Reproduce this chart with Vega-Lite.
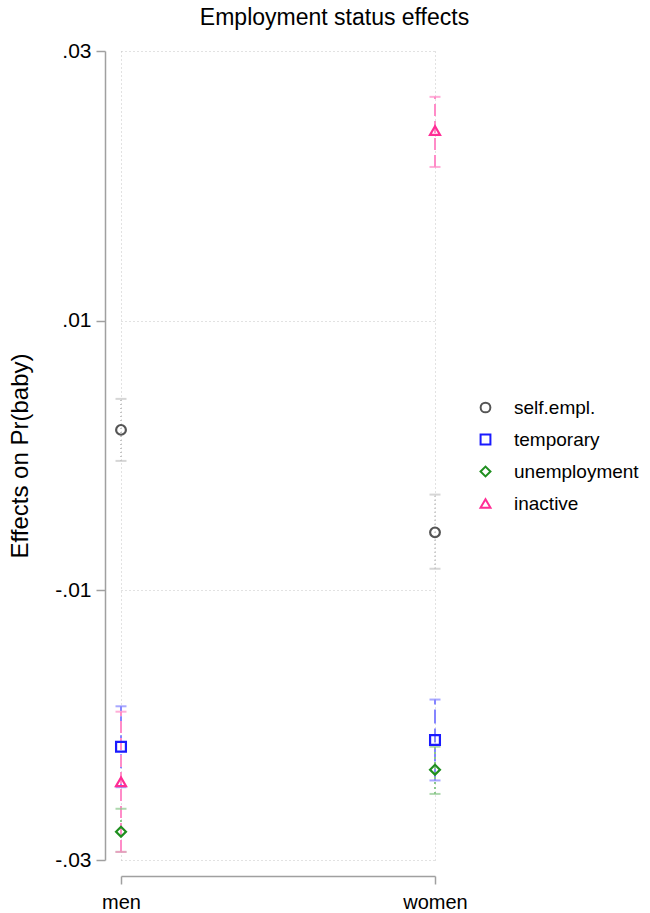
{
  "$schema": "https://vega.github.io/schema/vega-lite/v6.json",
  "autosize": "none",
  "width": 345,
  "height": 809,
  "padding": {"left": 105, "top": 51, "right": 200, "bottom": 53},
  "background": "white",
  "config": {"font": "Liberation Sans", "view": {"stroke": null}},
  "title": {"text": "Employment status effects", "fontSize": 23, "fontWeight": "normal", "color": "#000000", "anchor": "middle", "dx": 57, "offset": 10},
  "data": {"values": [
    {"sex": "men", "status": "self.empl.", "est": 0.0019, "lo": -0.0004, "hi": 0.0042},
    {"sex": "men", "status": "temporary", "est": -0.0216, "lo": -0.0246, "hi": -0.0186},
    {"sex": "men", "status": "unemployment", "est": -0.0279, "lo": -0.0294, "hi": -0.0262},
    {"sex": "men", "status": "inactive", "est": -0.0242, "lo": -0.0294, "hi": -0.0190},
    {"sex": "women", "status": "self.empl.", "est": -0.0057, "lo": -0.0084, "hi": -0.0029},
    {"sex": "women", "status": "temporary", "est": -0.0211, "lo": -0.0241, "hi": -0.0181},
    {"sex": "women", "status": "unemployment", "est": -0.0233, "lo": -0.0251, "hi": -0.0216},
    {"sex": "women", "status": "inactive", "est": 0.0241, "lo": 0.0214, "hi": 0.0266}
  ]},
  "encoding": {
    "x": {"field": "sex", "type": "nominal", "sort": ["men", "women"],
      "scale": {"type": "point", "range": [16, 330], "padding": 0},
      "axis": {"title": null, "offset": 16, "labelAngle": 0, "labelFontSize": 20, "labelColor": "#000000", "labelPadding": 8,
        "domainColor": "#a0a0a0", "domainWidth": 1.5, "tickColor": "#a0a0a0", "tickWidth": 1.5, "tickSize": 8,
        "grid": true, "gridDash": [1, 3], "gridColor": "#c4c4c4", "gridWidth": 1}}
  },
  "resolve": {"legend": {"color": "independent", "shape": "independent", "stroke": "independent", "fill": "independent", "strokeDash": "independent", "size": "independent"}},
  "layer": [
    {
      "mark": {"type": "rule", "color": "#f01c24", "strokeWidth": 2, "strokeDash": [15, 7]},
      "encoding": {"y": {"datum": 0, "type": "quantitative"}}
    },
    {
      "mark": {"type": "rule", "strokeWidth": 2},
      "encoding": {
        "y": {"field": "lo", "type": "quantitative",
          "scale": {"domain": [-0.03, 0.03], "nice": false, "zero": false},
          "axis": {"title": "Effects on Pr(baby)", "titleFontSize": 24, "titleFontWeight": "normal", "titleColor": "#000000", "titlePadding": 22,
            "values": [-0.03, -0.01, 0.01, 0.03], "labelExpr": "replace(replace(format(datum.value, '.2f'), '0.', '.'), '\u2212', '-')",
            "labelFontSize": 21, "labelColor": "#000000", "labelPadding": 5,
            "domainColor": "#a0a0a0", "domainWidth": 1.5, "tickColor": "#a0a0a0", "tickWidth": 1.5, "tickSize": 9,
            "grid": true, "gridDash": [1, 3], "gridColor": "#c4c4c4", "gridWidth": 1}},
        "y2": {"field": "hi"},
        "stroke": {"field": "status", "type": "nominal", "legend": null,
          "scale": {"domain": ["self.empl.", "temporary", "unemployment", "inactive"], "range": ["#c4c4c4", "#8585ff", "#8cc88c", "#ff8cc8"]}},
        "strokeDash": {"field": "status", "type": "nominal", "legend": null,
          "scale": {"domain": ["self.empl.", "temporary", "unemployment", "inactive"], "range": [[1, 3], [14, 5], [2, 3], [12, 5]]}}
      }
    },
    {
      "mark": {"type": "tick", "thickness": 2, "size": 11},
      "encoding": {"y": {"field": "lo", "type": "quantitative"},
        "fill": {"field": "status", "type": "nominal", "legend": null,
          "scale": {"domain": ["self.empl.", "temporary", "unemployment", "inactive"], "range": ["#c4c4c4", "#8585ff", "#8cc88c", "#ff8cc8"]}}}
    },
    {
      "mark": {"type": "tick", "thickness": 2, "size": 11},
      "encoding": {"y": {"field": "hi", "type": "quantitative"},
        "fill": {"field": "status", "type": "nominal", "legend": null}}
    },
    {
      "mark": {"type": "point", "filled": false, "strokeWidth": 2.2, "opacity": 1},
      "encoding": {
        "y": {"field": "est", "type": "quantitative"},
        "size": {"field": "status", "type": "nominal", "legend": null,
          "scale": {"domain": ["self.empl.", "temporary", "unemployment", "inactive"], "range": [95, 100, 165, 115]}},
        "color": {"field": "status", "type": "nominal",
          "scale": {"domain": ["self.empl.", "temporary", "unemployment", "inactive"], "range": ["#555555", "#1a1aff", "#1f8f1f", "#ff2d95"]},
          "legend": {"title": null, "orient": "none", "legendX": 371, "legendY": 347, "labelFontSize": 19, "labelColor": "#000000",
            "symbolSize": 60, "symbolStrokeWidth": 2, "labelOffset": 19, "rowPadding": 12}},
        "shape": {"field": "status", "type": "nominal",
          "scale": {"domain": ["self.empl.", "temporary", "unemployment", "inactive"], "range": ["circle", "square", "diamond", "triangle-up"]},
          "legend": {"title": null, "orient": "none", "legendX": 371, "legendY": 347, "labelFontSize": 19, "labelColor": "#000000",
            "symbolSize": 60, "symbolStrokeWidth": 2, "labelOffset": 19, "rowPadding": 12}}
      }
    }
  ]
}
